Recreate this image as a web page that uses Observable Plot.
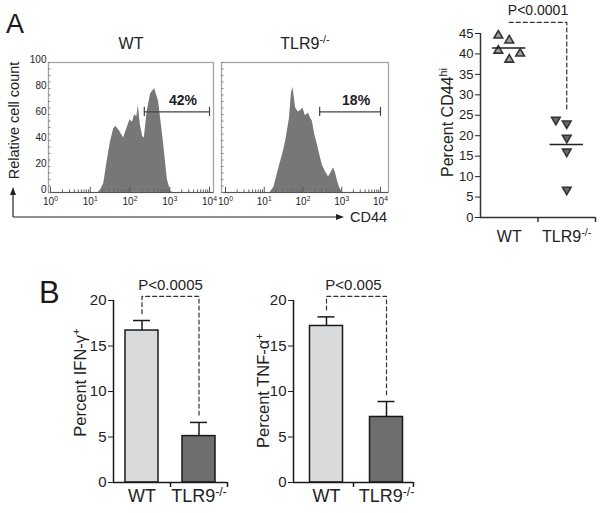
<!DOCTYPE html>
<html><head><meta charset="utf-8">
<script src="https://cdn.jsdelivr.net/npm/d3@7"></script>
<script src="https://cdn.jsdelivr.net/npm/@observablehq/plot@0.6"></script>
<style>
body{margin:0;background:#fff;font-family:"Liberation Sans",Arial,Helvetica,sans-serif;}
#fig{position:relative;width:600px;height:513px;overflow:hidden;background:#fff;}
#fig svg{position:absolute;}
</style></head><body><div id="fig"></div>
<script>
// ---------------- data ----------------
const groups = ["WT", "TLR9^-/-"];
// Panel A histograms (x = log10 CD44 fluorescence, y = relative cell count)
const histWT_log = [1.20,1.26,1.34,1.43,1.51,1.59,1.64,1.72,1.84,1.93,2.00,2.06,2.12,2.17,2.21,2.26,2.32,2.36,2.43,2.52,2.62,2.72,2.84,2.94,3.02,3.08];
const histWT_count = [0,2,7,25,39,49,51,48,42,50,56,54,60,58,67,52,43,42,62,76,80,70,39,10,1,0];
const histKO_log = [1.15,1.25,1.37,1.48,1.55,1.65,1.70,1.74,1.81,1.88,1.94,2.00,2.06,2.14,2.20,2.24,2.30,2.37,2.44,2.50,2.58,2.66,2.72,2.79,2.84,2.88,2.94,3.01];
const histKO_count = [0,4,18,30,39,57,76,81,65,62,63,65,59,61,57,55,45,37,28,21,16,12,15,19,15,10,4,0];
const histXTicks = [0,1,2,3,4];
const histYTicks = [0,20,40,60,80,100];
const gateWT = [2.36, 4.0];
const gateKO = [2.43, 4.0];
const gateLevel = 62;
const gatePercent = ["42%", "18%"];
// Panel A scatter (percent CD44hi per mouse)
const cd44WT = [44.5, 43.3, 40.8, 40.1, 38.6];
const cd44KO = [23.9, 23.0, 19.5, 16.1, 6.8];
const jitterWT = [-1, 0, -1, 1, 0];
const jitterKO = [-1, 0, 0, 0, 0];
const cd44Ticks = [0,5,10,15,20,25,30,35,40,45];
// Panel B bars (mean, SEM)
const ifnMean = [16.7, 5.1];
const ifnSEM = [1.1, 1.5];
const tnfMean = [17.2, 7.2];
const tnfSEM = [1.0, 1.7];
const barTicks = [0,5,10,15,20];
const pValues = ["P<0.0001", "P<0.0005", "P<0.005"];

// ---------------- helpers ----------------
const FONT = '"Liberation Sans", Arial, Helvetica, sans-serif';
const fig = document.getElementById("fig");
function place(svg, left, top) {
  svg.style.left = left + "px";
  svg.style.top = top + "px";
  fig.appendChild(svg);
  return svg;
}
function sup(svg) {
  svg.querySelectorAll("text").forEach(t => {
    const s = t.textContent;
    if (!s.includes("^")) return;
    const [base, sp] = s.split("^");
    t.textContent = base;
    const ts = document.createElementNS("http://www.w3.org/2000/svg", "tspan");
    ts.setAttribute("dy", "-0.55em");
    ts.setAttribute("font-size", "68%");
    ts.textContent = sp;
    t.appendChild(ts);
  });
  return svg;
}
function shiftYAxis(svg, dy) {
  svg.querySelectorAll('g[aria-label^="y-axis"]').forEach(g => {
    const tr = g.getAttribute("transform") || "";
    g.setAttribute("transform", (tr + ` translate(0,${dy})`).trim());
  });
  return svg;
}

function histogram({logs, counts, gate, pct, title, showY, width, marginLeft, marginRight, insetLeft, insetRight}) {
  const data = logs.map((x, i) => ({x, y: counts[i]}));
  const minor = [];
  for (const n of [0,1,2,3]) for (let k = 2; k < 10; k++) minor.push(n + Math.log10(k));
  const ppu = (width - marginLeft - marginRight - insetLeft - insetRight) / 4;
  const marks = [
    Plot.areaY(data, {x: "x", y: "y", fill: "#777", curve: "linear"}),
    Plot.frame({stroke: "#a5a5a5", strokeWidth: 1.3}),
    Plot.ruleY([0], {stroke: "#555", strokeWidth: 1.2}),
    Plot.ruleX(minor, {y1: () => 0, y2: () => 2, stroke: "#666"}),
    Plot.ruleX(histXTicks, {y1: () => 0, y2: () => 4, stroke: "#555"}),
    Plot.ruleY(d3.range(0, 101, 5), {x1: () => 0, x2: () => 2.5 / ppu, dx: -insetLeft, stroke: "#888"}),
    Plot.ruleY([gateLevel], {x1: () => gate[0], x2: () => gate[1], stroke: "#444", strokeWidth: 1.2}),
    Plot.ruleX(gate, {y1: () => gateLevel - 3.5, y2: () => gateLevel + 3.5, stroke: "#444", strokeWidth: 1.2}),
    Plot.text([{x: (gate[0] + gate[1]) / 2, y: gateLevel + 8.5, t: pct}], {x: "x", y: "y", text: "t", dx: 6, fontWeight: "bold", fontSize: 14, fill: "#222"}),
    Plot.text([title], {frameAnchor: "top", dy: -19, lineAnchor: "middle", textAnchor: "middle", fontSize: 16, fill: "#222"})
  ];
  if (showY) marks.push(Plot.text(["Relative cell count"], {frameAnchor: "left", rotate: -90, dx: -34, dy: -7, textAnchor: "middle", lineAnchor: "middle", fontSize: 14.5, fill: "#222"}));
  const svg = Plot.plot({
    width, height: 180, marginLeft, marginRight, marginTop: 22, marginBottom: 28,
    x: {domain: [0, 4], insetLeft, insetRight, ticks: histXTicks, tickFormat: d => "10^" + d, tickSize: 0, tickPadding: 5, label: null},
    y: {domain: [0, 100], ticks: histYTicks, tickSize: 0, tickPadding: 2, label: null, axis: showY ? "left" : null},
    style: {fontFamily: FONT, fontSize: "10px", color: "#222", background: "transparent", overflow: "visible"},
    marks
  });
  return shiftYAxis(sup(svg), -2.5);
}

function barPanel({width, marginLeft, marginRight, domain, means, sems, p, ylabel, ydx, ydy}) {
  const ppu = (width - marginLeft - marginRight) / (domain[1] - domain[0]);
  const hw = 16.5 / ppu, cw = 8.5 / ppu, ypu = (243 - 30 - 31) / 20;
  const data = groups.map((g, i) => ({i, g, m: means[i], top: means[i] + sems[i]}));
  const lvl = 20.45;
  const br = [
    {x: 0, y: data[0].top + 0.75}, {x: 0, y: lvl},
    {x: 1, y: lvl}, {x: 1, y: data[1].top + 0.75}
  ];
  const fills = ["#d9dadb", "#6e6e6e"];
  return sup(Plot.plot({
    width, height: 243, marginLeft, marginRight, marginTop: 30, marginBottom: 31,
    x: {domain, axis: null},
    y: {domain: [0, 20], ticks: barTicks, tickSize: 5, tickPadding: 2, label: null},
    style: {fontFamily: FONT, fontSize: "15px", color: "#222", background: "transparent", overflow: "visible"},
    marks: [
      ...data.map(d => Plot.rect([d], {x1: d => d.i - hw, x2: d => d.i + hw, y1: () => 0, y2: "m", fill: fills[d.i], stroke: "#1a1a1a", strokeWidth: 1.5})),
      Plot.ruleX(data, {x: "i", y1: "m", y2: "top", stroke: "#1a1a1a", strokeWidth: 1.5}),
      Plot.ruleY(data, {y: "top", x1: d => d.i - cw, x2: d => d.i + cw, stroke: "#1a1a1a", strokeWidth: 1.5}),
      Plot.ruleY([0], {x1: () => domain[0], x2: () => domain[1], stroke: "#1a1a1a", strokeWidth: 1.5}),
      Plot.ruleX([domain[0]], {y1: () => 0, y2: () => 20, stroke: "#1a1a1a", strokeWidth: 1.5}),
      Plot.ruleX([(domain[0] + domain[1]) / 2, domain[1]], {y1: () => 0, y2: () => -5 / ypu, stroke: "#1a1a1a", strokeWidth: 1.5}),
      Plot.line(br, {x: "x", y: "y", stroke: "#333", strokeWidth: 1.2, strokeDasharray: "4,3"}),
      Plot.text([p], {frameAnchor: "top", dy: -15, lineAnchor: "middle", textAnchor: "middle", fontSize: 15, fill: "#222"}),
      Plot.text(groups, {x: (d, i) => i, frameAnchor: "bottom", dy: 14, lineAnchor: "middle", textAnchor: "middle", fontSize: 18, fill: "#222"}),
      Plot.text([ylabel], {frameAnchor: "left", rotate: -90, dx: ydx, dy: ydy, textAnchor: "middle", lineAnchor: "middle", fontSize: 16.5, fill: "#222"})
    ]
  }));
}

// ---------------- panel A histograms ----------------
place(histogram({logs: histWT_log, counts: histWT_count, gate: gateWT, pct: gatePercent[0], title: groups[0], showY: true,
  width: 220, marginLeft: 48, marginRight: 7, insetLeft: 2, insetRight: 4}), 0, 40);
place(histogram({logs: histKO_log, counts: histKO_count, gate: gateKO, pct: gatePercent[1], title: groups[1], showY: false,
  width: 200, marginLeft: 21, marginRight: 12, insetLeft: 4, insetRight: 8}), 200, 40);

// ---------------- panel A scatter ----------------
{
  const spread = 0.19, half = 0.29;
  const pts = [
    ...cd44WT.map((v, i) => ({g: 0, j: jitterWT[i], v})),
    ...cd44KO.map((v, i) => ({g: 1, j: jitterKO[i], v}))
  ];
  const means = [{g: 0, m: d3.mean(cd44WT)}, {g: 1, m: d3.mean(cd44KO)}];
  const triUp = {draw(ctx, size) { const r = Math.sqrt(size / Math.PI), a = 2.4 * r, h = a * Math.sqrt(3) / 2;
    ctx.moveTo(0, -2 * h / 3); ctx.lineTo(a / 2, h / 3); ctx.lineTo(-a / 2, h / 3); ctx.closePath(); }};
  const triDown = {draw(ctx, size) { const r = Math.sqrt(size / Math.PI), a = 2.4 * r, h = a * Math.sqrt(3) / 2;
    ctx.moveTo(0, 2 * h / 3); ctx.lineTo(a / 2, -h / 3); ctx.lineTo(-a / 2, -h / 3); ctx.closePath(); }};
  const ypu = (255 - 33 - 38) / 45;
  const lvl = 47.7;
  const br = [{x: 0, y: lvl}, {x: 1, y: lvl}, {x: 1, y: d3.max(cd44KO) + 2.5}];
  place(sup(Plot.plot({
    width: 180, height: 255, marginLeft: 60, marginRight: 5, marginTop: 33, marginBottom: 38,
    x: {domain: [-0.5, 1.5], axis: null},
    y: {domain: [0, 45], ticks: cd44Ticks, tickSize: 5, tickPadding: 2, label: null},
    style: {fontFamily: FONT, fontSize: "13px", color: "#222", background: "transparent", overflow: "visible"},
    marks: [
      Plot.ruleX([-0.5], {y1: () => 0, y2: () => 45, stroke: "#333", strokeWidth: 1.5}),
      Plot.ruleY([0], {x1: () => -0.5, x2: () => 1.5, stroke: "#333", strokeWidth: 1.5}),
      Plot.ruleX([0.5, 1.5], {y1: () => 0, y2: () => -5 / ypu, stroke: "#333", strokeWidth: 1.5}),
      Plot.dot(pts.filter(d => d.g === 0), {x: d => d.g + d.j * spread, y: "v", symbol: triUp, r: 3.6, fill: "#a0a0a0", stroke: "#333", strokeWidth: 1.6}),
      Plot.dot(pts.filter(d => d.g === 1), {x: d => d.g + d.j * spread, y: "v", symbol: triDown, r: 3.6, fill: "#6a6a6a", stroke: "#333", strokeWidth: 1.6}),
      Plot.ruleY(means, {y: "m", x1: d => d.g - half, x2: d => d.g + half, stroke: "#222", strokeWidth: 1.5}),
      Plot.line(br, {x: "x", y: "y", stroke: "#333", strokeWidth: 1.2, strokeDasharray: "4,3"}),
      Plot.text([{x: 0.5, y: lvl + 2.9, t: pValues[0]}], {x: "x", y: "y", text: "t", fontSize: 14, fill: "#222"}),
      Plot.text(groups, {x: (d, i) => i, frameAnchor: "bottom", dy: 19, lineAnchor: "middle", textAnchor: "middle", fontSize: 16, fill: "#222"}),
      Plot.text(["Percent CD44^hi"], {frameAnchor: "left", rotate: -90, dx: -33, dy: -3, textAnchor: "middle", lineAnchor: "middle", fontSize: 16, fill: "#222"})
    ]
  })), 420, 0);
}

// ---------------- panel B bars ----------------
place(barPanel({width: 240, marginLeft: 113, marginRight: 13, domain: [-0.5, 1.5], means: ifnMean, sems: ifnSEM,
  p: pValues[1], ylabel: "Percent IFN-γ^+", ydx: -33, ydy: -9}), 0, 270);
place(barPanel({width: 200, marginLeft: 53, marginRight: 27, domain: [-0.55, 1.45], means: tnfMean, sems: tnfSEM,
  p: pValues[2], ylabel: "Percent TNF-α^+", ydx: -30, ydy: -1}), 240, 270);

// ---------------- annotations: panel letters, CD44 arrows ----------------
{
  const ov = d3.create("svg").attr("width", 600).attr("height", 513)
    .style("left", "0px").style("top", "0px").style("font-family", FONT).style("pointer-events", "none");
  ov.append("text").attr("x", 6).attr("y", 33).attr("font-size", 27).attr("fill", "#1a1a1a").text("A");
  ov.append("text").attr("x", 39).attr("y", 303).attr("font-size", 31).attr("fill", "#1a1a1a").text("B");
  ov.append("path").attr("d", "M13,217H338M13,217V193").attr("fill", "none").attr("stroke", "#222").attr("stroke-width", 1.2);
  ov.append("path").attr("d", "M336,214L344,217L336,220Z").attr("fill", "#222");
  ov.append("path").attr("d", "M10,195L13,187L16,195Z").attr("fill", "#222");
  ov.append("text").attr("x", 350).attr("y", 222).attr("font-size", 14.5).attr("fill", "#222").text("CD44");
  fig.appendChild(ov.node());
}
</script>
</body></html>
